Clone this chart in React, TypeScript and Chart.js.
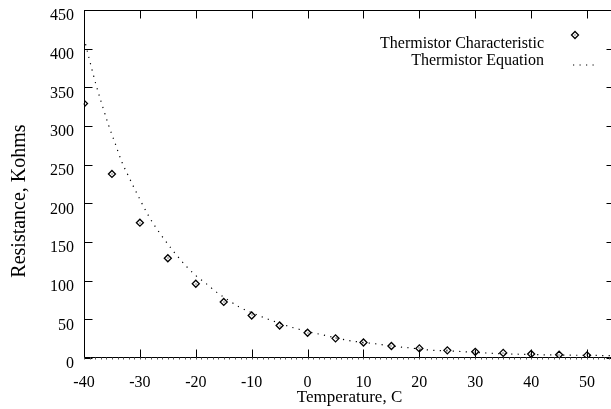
import React, { useEffect, useRef } from "react";
import { Chart, registerables } from "chart.js";

Chart.register(...registerables);

// Measured thermistor table (temperature in C, resistance in kOhm)
const charTemps = [-40, -35, -30, -25, -20, -15, -10, -5, 0, 5, 10, 15, 20, 25, 30, 35, 40, 45, 50];
const charValues = [329, 238, 175, 129, 96, 72.5, 55, 42, 32.6, 25.4, 20, 15.5, 12.4, 9.9, 8, 6.6, 5.2, 4.3, 3.4];

// Points
const eqTemps = [-40, -39, -37.8, -36.7, -35.6, -34.4, -33.2, -32.1, -31.1, -28.3, -26.3, -24.1, -21.8, -20.1, -18.2, -16.3, -14.3, -12.3, -8, -6.8, -3.3, -2.3, 1.3, 2.5, 7.3, 8.5, 12.1, 13.3, 16.8, 18.2, 21.2, 27.3, 32.7, 37.5, 42.8, 52.7, 55];
const eqValues = [414, 385, 352, 326, 301, 277, 253, 236, 221, 182, 160, 139, 119.4, 107.3, 96.5, 85.2, 75.4, 66.3, 52.8, 49.5, 40.8, 38.6, 32.1, 30.2, 22.7, 21.4, 18.4, 17.2, 14, 13.2, 10.6, 8.4, 6.2, 4.9, 4.1, 3.2, 3.0];

const xTicks = [-40, -30, -20, -10, 0, 10, 20, 30, 40, 50];
const yTicks = [0, 50, 100, 150, 200, 250, 300, 350, 400, 450];
const xMin = -40;
const xMax = 55;
const yMin = 0;
const yMax = 450;

const xTitle = "Temperature, C";
const yTitle = "Resistance, Kohms";
const seriesLabels = ["Thermistor Characteristic", "Thermistor Equation"];

const FONT = '"Liberation Serif", "Times New Roman", serif';

const framePlugin = {
  id: "gnuFrame",
  afterDatasetsDraw(chart: any) {
    const ctx = chart.ctx;
    const meta = chart.getDatasetMeta(0);
    ctx.save();
    ctx.fillStyle = "#000";
    for (const el of meta.data) {
      ctx.fillRect(Math.round(el.x) - 0.5, Math.round(el.y) - 0.5, 1, 1);
    }
    ctx.restore();
  },
  afterDraw(chart: any) {
    const { ctx, chartArea: a, scales } = chart;
    const xs = scales.x;
    const ys = scales.y;
    const L = Math.round(a.left) + 0.5;
    const R = Math.round(a.right) - 0.5;
    const T = Math.round(a.top) + 0.5;
    const B = Math.round(a.bottom) - 0.5;
    ctx.save();
    ctx.strokeStyle = "#000";
    ctx.lineWidth = 1;
    ctx.strokeRect(L, T, R - L, B - T);
    ctx.beginPath();
    for (const v of xTicks) {
      const px = Math.round(xs.getPixelForValue(v)) + 0.5;
      ctx.moveTo(px, B);
      ctx.lineTo(px, B - 8);
      ctx.moveTo(px, T);
      ctx.lineTo(px, T + 8);
    }
    for (const v of yTicks) {
      const py = Math.round(ys.getPixelForValue(v)) + 0.5;
      ctx.moveTo(L, py);
      ctx.lineTo(L + 8, py);
      ctx.moveTo(R, py);
      ctx.lineTo(R - 8, py);
    }
    ctx.stroke();
    // small marks below the bottom axis
    ctx.strokeStyle = "#555";
    ctx.beginPath();
    for (let v = xMin; v <= xMax; v += 1) {
      const px = Math.round(xs.getPixelForValue(v)) + 0.5;
      ctx.moveTo(px, B);
      ctx.lineTo(px, B + 2);
    }
    ctx.stroke();

    // legend
    ctx.fillStyle = "#000";
    ctx.font = `16px ${FONT}`;
    ctx.textAlign = "right";
    ctx.textBaseline = "alphabetic";
    ctx.fillText(seriesLabels[0], 544, 47.5);
    ctx.fillText(seriesLabels[1], 544, 64.5);
    ctx.strokeStyle = "#000";
    ctx.lineWidth = 1.3;
    const dx = 575, dy = 35, r = 3.5;
    ctx.beginPath();
    ctx.moveTo(dx - r, dy);
    ctx.lineTo(dx, dy - r);
    ctx.lineTo(dx + r, dy);
    ctx.lineTo(dx, dy + r);
    ctx.closePath();
    ctx.stroke();
    ctx.fillRect(dx - 0.5, dy - 0.5, 1, 1);
    ctx.lineWidth = 1.2;
    ctx.setLineDash([1.2, 5.3]);
    ctx.beginPath();
    ctx.moveTo(573, 65);
    ctx.lineTo(594, 65);
    ctx.stroke();
    ctx.setLineDash([]);

    // y axis title
    ctx.save();
    ctx.translate(19.5, 201);
    ctx.rotate(-Math.PI / 2);
    ctx.textAlign = "center";
    ctx.textBaseline = "middle";
    ctx.font = `20px ${FONT}`;
    ctx.fillText(yTitle, 0, 0);
    ctx.restore();
    ctx.restore();
  },
};

export default function App() {
  const ref = useRef<HTMLCanvasElement | null>(null);

  useEffect(() => {
    if (!ref.current) return;
    const chart = new Chart(ref.current, {
      type: "scatter",
      data: {
        datasets: [
          {
            label: seriesLabels[0],
            data: charTemps.map((t, i) => ({ x: t, y: charValues[i] })),
            showLine: false,
            pointStyle: "rectRot",
            pointRadius: 3.5,
            pointHoverRadius: 3.5,
            pointBorderWidth: 1.3,
            borderColor: "#000",
            backgroundColor: "rgba(0,0,0,0)",
            pointBackgroundColor: "rgba(0,0,0,0)",
            order: 1,
          },
          {
            label: seriesLabels[1],
            data: eqTemps.map((t, i) => ({ x: t, y: eqValues[i] })),
            showLine: true,
            pointRadius: 0,
            borderWidth: 1.2,
            borderColor: "#000",
            borderDash: [1.2, 5.3],
            cubicInterpolationMode: "monotone",
            fill: false,
            order: 2,
          },
        ],
      },
      options: {
        animation: false,
        responsive: false,
        maintainAspectRatio: false,
        devicePixelRatio: 1,
        layout: { padding: { left: 0, right: 5, top: 10, bottom: 0 } },
        plugins: {
          legend: { display: false },
          tooltip: { enabled: false },
        },
        events: [],
        scales: {
          x: {
            type: "linear",
            position: "bottom",
            min: xMin,
            max: xMax,
            grid: { display: false, drawTicks: false, tickLength: 0 },
            border: { display: false },
            ticks: {
              stepSize: 10,
              includeBounds: false,
              autoSkip: false,
              maxRotation: 0,
              color: "#000",
              padding: 15,
              font: { family: FONT, size: 16 },
            },
            title: {
              display: true,
              text: xTitle,
              color: "#000",
              font: { family: FONT, size: 17 },
              padding: { top: 0, bottom: 1 },
            },
            afterFit: (s: any) => {
              s.height = 51;
              s.paddingLeft = 0;
              s.paddingRight = 0;
            },
          },
          y: {
            type: "linear",
            position: "left",
            min: yMin,
            max: yMax,
            grid: { display: false, drawTicks: false, tickLength: 0 },
            border: { display: false },
            ticks: {
              stepSize: 50,
              autoSkip: false,
              color: "#000",
              padding: 10,
              labelOffset: 6,
              font: { family: FONT, size: 16 },
            },
            afterFit: (s: any) => {
              s.width = 84;
              s.paddingTop = 0;
              s.paddingBottom = 0;
            },
          },
        },
      },
      plugins: [framePlugin],
    });
    return () => chart.destroy();
  }, []);

  return (
    <div
      style={{
        position: "fixed",
        left: 0,
        top: 0,
        width: 611,
        height: 409,
        overflow: "hidden",
        background: "#fff",
      }}
    >
      <canvas ref={ref} width={620} height={409} style={{ display: "block", width: 620, height: 409 }} />
    </div>
  );
}
